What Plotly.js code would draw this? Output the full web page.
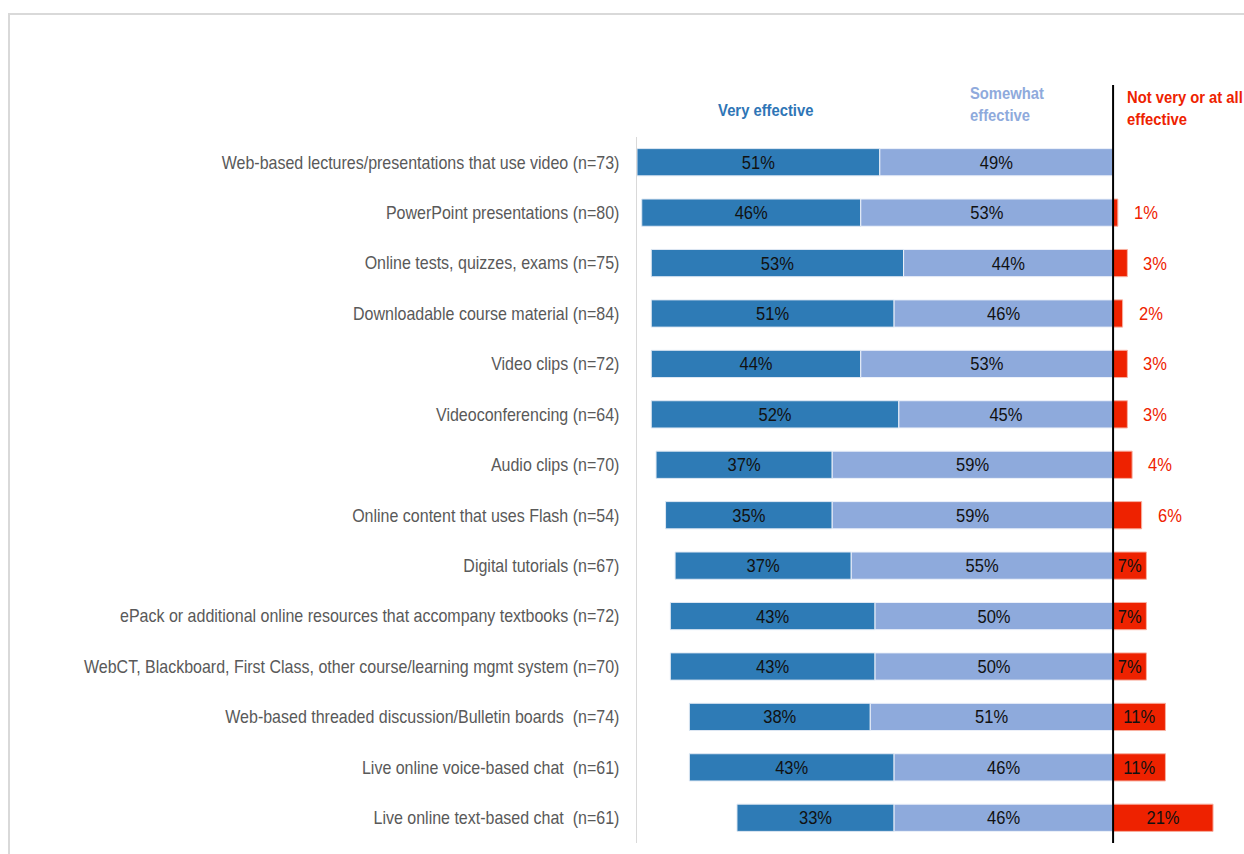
<!DOCTYPE html>
<html>
<head>
<meta charset="utf-8">
<script src="https://cdn.plot.ly/plotly-3.0.1.min.js"></script>
<style>
  html, body { margin: 0; padding: 0; background: #ffffff; }
  #frame {
    position: absolute; left: 8px; top: 13px; width: 1236px; height: 841px;
    border-left: 2px solid #d9d9d9; border-top: 2px solid #d9d9d9; box-sizing: border-box;
  }
  #chart { position: absolute; left: 0; top: 0; width: 1244px; height: 854px; }
</style>
</head>
<body>
<div id="frame"></div>
<div id="chart"></div>
<script>
// Survey items, top to bottom
const categories = [
  "Web-based lectures/presentations that use video (n=73)",
  "PowerPoint presentations (n=80)",
  "Online tests, quizzes, exams (n=75)",
  "Downloadable course material (n=84)",
  "Video clips (n=72)",
  "Videoconferencing (n=64)",
  "Audio clips (n=70)",
  "Online content that uses Flash (n=54)",
  "Digital tutorials (n=67)",
  "ePack or additional online resources that accompany textbooks (n=72)",
  "WebCT, Blackboard, First Class, other course/learning mgmt system (n=70)",
  "Web-based threaded discussion/Bulletin boards \u00a0(n=74)",
  "Live online voice-based chat \u00a0(n=61)",
  "Live online text-based chat \u00a0(n=61)"
];

// Percentages per rating
const veryEffective     = [51, 46, 53, 51, 44, 52, 37, 35, 37, 43, 43, 38, 43, 33];
const somewhatEffective = [49, 53, 44, 46, 53, 45, 59, 59, 55, 50, 50, 51, 46, 46];
const notEffective      = [0, 1, 3, 2, 3, 3, 4, 6, 7, 7, 7, 11, 11, 21];

const C_VERY = "#2E7BB6";
const C_SOME = "#8EAADC";
const C_NOT  = "#EE2200";
const FONT = "Liberation Sans Narrow, Arial Narrow, Liberation Sans, Arial, sans-serif";
const INSIDE_MIN = 7; // smaller red shares get their label outside the bar

const pct = v => v + "%";

// Positive ratings extend left from the divider, negative ratings to the right
const traceVery = {
  type: "bar", orientation: "h", name: "Very effective",
  y: categories,
  x: veryEffective,
  base: veryEffective.map((v, i) => -(v + somewhatEffective[i])),
  marker: { color: C_VERY, line: { color: "#dfe8f3", width: 1 } },
  text: veryEffective.map(pct),
  textposition: "inside", insidetextanchor: "middle", constraintext: "none",
  textfont: { family: FONT, size: 19, color: "#111111" },
  hoverinfo: "skip"
};
const traceSome = {
  type: "bar", orientation: "h", name: "Somewhat effective",
  y: categories,
  x: somewhatEffective,
  base: somewhatEffective.map(v => -v),
  marker: { color: C_SOME, line: { color: "#eef2fa", width: 1 } },
  text: somewhatEffective.map(pct),
  textposition: "inside", insidetextanchor: "middle", constraintext: "none",
  textfont: { family: FONT, size: 19, color: "#111111" },
  hoverinfo: "skip"
};
const traceNot = {
  type: "bar", orientation: "h", name: "Not very or at all effective",
  y: categories,
  x: notEffective,
  base: notEffective.map(() => 0),
  marker: { color: C_NOT, line: { color: "#f8b0a0", width: 1 } },
  text: notEffective.map(v => v >= INSIDE_MIN ? pct(v) : ""),
  textposition: "inside", insidetextanchor: "middle", constraintext: "none",
  textfont: { family: FONT, size: 19, color: "#111111" },
  hoverinfo: "skip"
};

// Red labels beside the small red bars
const outsideLabels = [];
notEffective.forEach((v, i) => {
  if (v > 0 && v < INSIDE_MIN) {
    outsideLabels.push({
      x: v, y: categories[i], xref: "x", yref: "y",
      text: pct(v), showarrow: false, xanchor: "left", xshift: 14,
      font: { family: FONT, size: 19, color: C_NOT }
    });
  }
});

const headers = [
  { text: "<b>Very effective</b>", x: 0.2125, y: 1.038, xanchor: "center", color: "#2E75B6" },
  { text: "<b>Somewhat<br>effective</b>", x: 0.546, y: 1.046, xanchor: "left", color: "#8FAADC" },
  { text: "<b>Not very or at all<br>effective</b>", x: 0.8045, y: 1.04, xanchor: "left", color: C_NOT }
].map(h => ({
  text: h.text, x: h.x, y: h.y, xref: "paper", yref: "paper",
  xanchor: h.xanchor, yanchor: "middle", align: "left", showarrow: false,
  font: { family: FONT, size: 17, color: h.color }
}));

const layout = {
  width: 1244, height: 854,
  margin: { l: 637, r: 0, t: 137, b: 11, pad: 0 },
  paper_bgcolor: "rgba(0,0,0,0)",
  plot_bgcolor: "rgba(0,0,0,0)",
  barmode: "overlay",
  bargap: 0.46,
  showlegend: false,
  xaxis: {
    range: [-100, 27.5], visible: false, fixedrange: true
  },
  yaxis: {
    type: "category", autorange: "reversed",
    showline: true, linecolor: "#d9d9d9", linewidth: 1,
    showgrid: false, zeroline: false, ticks: "",
    ticklabelstandoff: 13,
    tickfont: { family: FONT, size: 18, color: "#595959" },
    fixedrange: true
  },
  shapes: [
    { type: "line", xref: "x", yref: "paper", x0: 0, x1: 0, y0: 0, y1: 1.0737,
      line: { color: "#000000", width: 2 } }
  ],
  annotations: headers.concat(outsideLabels)
};

// Narrow the lettering horizontally, keeping each text's anchored edge in place
function condense(el, s, anchor) {
  if (!el) return;
  const b = el.getBBox();
  const ax = anchor === "end" ? b.x + b.width : anchor === "middle" ? b.x + b.width / 2 : b.x;
  const t = el.getAttribute("transform") || "";
  el.setAttribute("transform", `${t} translate(${ax},0) scale(${s},1) translate(${-ax},0)`);
}

Plotly.newPlot("chart", [traceVery, traceSome, traceNot], layout, { staticPlot: true, displayModeBar: false })
  .then(gd => {
    gd.querySelectorAll(".ytick text").forEach(el => condense(el, 0.89, "end"));
    gd.querySelectorAll("text.bartext").forEach(el => condense(el, 0.87, "middle"));
    gd.querySelectorAll("g.annotation").forEach(g => {
      const a = layout.annotations[+g.getAttribute("data-index")];
      const anchor = a.xanchor === "left" ? "start" : a.xanchor === "right" ? "end" : "middle";
      condense(g.querySelector("text.annotation-text"), 0.87, anchor);
    });
  });
</script>
</body>
</html>
